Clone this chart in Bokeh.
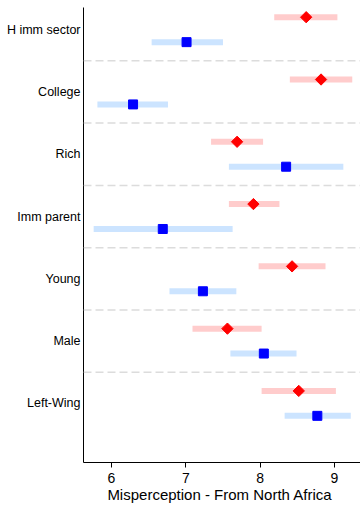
import math
from bokeh.plotting import figure
from bokeh.models import Range1d, FixedTicker, Span, ColumnDataSource
from bokeh.transform import dodge
from bokeh.embed import file_html
from bokeh.resources import INLINE

categories = ["H imm sector", "College", "Rich", "Imm parent", "Young", "Male", "Left-Wing"]

red_est = [8.62, 8.82, 7.69, 7.91, 8.43, 7.56, 8.52]
red_lo = [8.19, 8.40, 7.34, 7.58, 7.98, 7.09, 8.02]
red_hi = [9.04, 9.24, 8.04, 8.26, 8.88, 8.02, 9.02]

blue_est = [7.01, 6.29, 8.35, 6.69, 7.23, 8.05, 8.77]
blue_lo = [6.54, 5.81, 7.58, 5.76, 6.78, 7.60, 8.33]
blue_hi = [7.50, 6.76, 9.12, 7.63, 7.68, 8.49, 9.22]

x_ticks = [6, 7, 8, 9]
x_title = "Misperception -  From North Africa"

n = len(categories)
ypos = [n - i for i in range(n)]

src = ColumnDataSource(dict(y=ypos, cat=categories,
                            r=red_est, rlo=red_lo, rhi=red_hi,
                            b=blue_est, blo=blue_lo, bhi=blue_hi))

FONT = "Liberation Sans"

p = figure(width=360, height=505, output_backend="svg", toolbar_location=None,
           x_range=Range1d(5.623, 9.351), y_range=Range1d(0.051, 7.356),
           min_border_left=83, min_border_right=0, min_border_top=7, min_border_bottom=42)
p.outline_line_color = None
p.xgrid.visible = False
p.ygrid.visible = False
p.background_fill_color = "white"
p.border_fill_color = "white"

# separators
for i in range(1, n):
    p.add_layout(Span(location=i + 0.5, dimension="width", line_color="#dcdcdc",
                      line_width=1.5, line_dash="8 4"))

# CIs
p.segment(x0="rlo", x1="rhi", y0=dodge("y", 0.2), y1=dodge("y", 0.2), source=src,
          line_color="#ffcccc", line_width=6, line_cap="butt")
p.segment(x0="blo", x1="bhi", y0=dodge("y", -0.2), y1=dodge("y", -0.2), source=src,
          line_color="#cce4ff", line_width=6, line_cap="butt")

# point estimates
p.scatter(x="r", y=dodge("y", 0.2), source=src, marker="square", size=8,
          angle=math.pi / 4, fill_color="#ff0000", line_color="#ff0000")
p.scatter(x="b", y=dodge("y", -0.2), source=src, marker="square", size=9,
          fill_color="#0000ff", line_color="#0000ff")

# y axis
p.yaxis.ticker = FixedTicker(ticks=ypos)
p.yaxis.major_label_overrides = {y: c for y, c in zip(ypos, categories)}
p.yaxis.major_tick_line_color = None
p.yaxis.minor_tick_line_color = None
p.yaxis.major_tick_out = 0
p.yaxis.major_tick_in = 0
p.yaxis.major_label_standoff = 3
p.yaxis.major_label_text_font = FONT
p.yaxis.major_label_text_font_size = "12.5px"
p.yaxis.major_label_text_color = "black"
p.yaxis.axis_line_color = "black"

# x axis
p.xaxis.ticker = FixedTicker(ticks=x_ticks)
p.xaxis.minor_tick_line_color = None
p.xaxis.major_tick_out = 5
p.xaxis.major_tick_in = 0
p.xaxis.major_tick_line_color = "black"
p.xaxis.axis_line_color = "black"
p.xaxis.major_label_text_font = FONT
p.xaxis.major_label_text_font_size = "14px"
p.xaxis.major_label_text_color = "black"
p.xaxis.major_label_standoff = 5
p.xaxis.axis_label = x_title
p.xaxis.axis_label_text_font = FONT
p.xaxis.axis_label_text_font_size = "15px"
p.xaxis.axis_label_text_font_style = "normal"
p.xaxis.axis_label_text_color = "black"
p.xaxis.axis_label_standoff = 0

open("out.html", "w").write(file_html(p, INLINE))
